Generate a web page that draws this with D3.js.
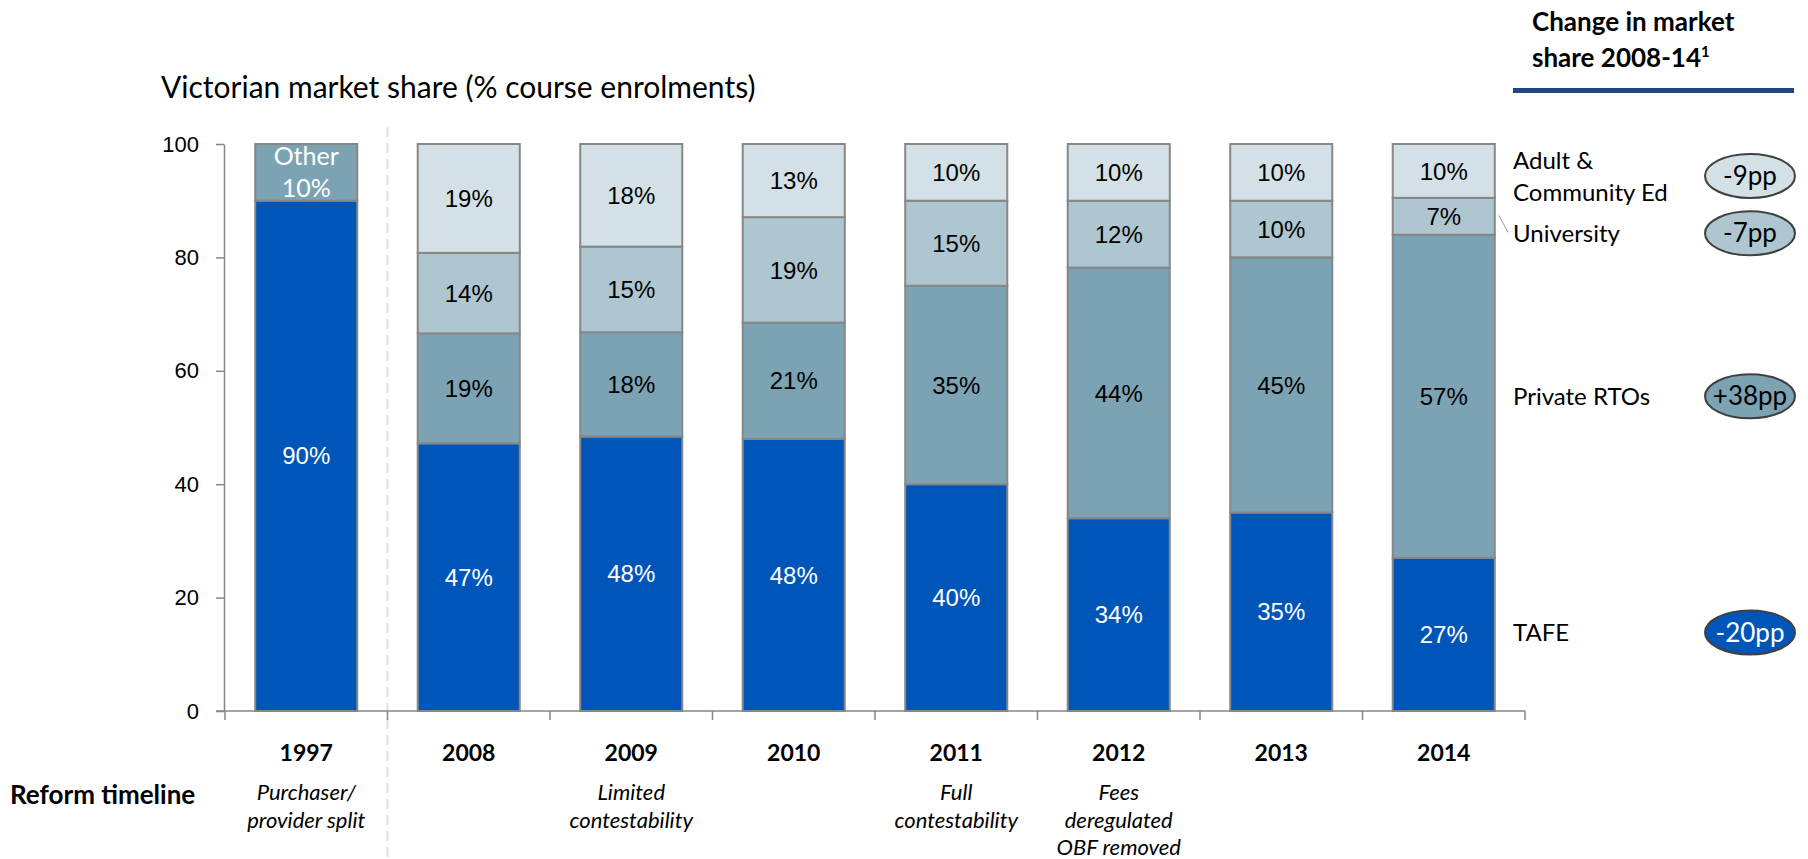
<html>
<head>
<style>
  body{margin:0;background:#fff}
  .lbl{font-family:"Liberation Sans",Arial,sans-serif;font-size:24px}
  .cal{font-family:Lato,"Open Sans",sans-serif}
</style>
</head>
<body>
<div id="vic-share"></div>
<script src="https://cdn.jsdelivr.net/npm/d3@7"></script>
<script>
(function () {

  // ---- data (% of course enrolments) ----
  var years      = ['1997', '2008', '2009', '2010', '2011', '2012', '2013', '2014'];
  var tafe       = [90, 47.2, 48.4, 48.0, 40, 34, 35, 27];
  var other      = [10, 0, 0, 0, 0, 0, 0, 0];
  var privateRto = [0, 19.4, 18.4, 20.5, 35, 44.2, 45, 57];
  var university = [0, 14.2, 15.1, 18.6, 15, 11.8, 10, 6.5];
  var ace        = [0, 19.2, 18.1, 12.9, 10, 10, 10, 9.5];
  var yTicks     = [0, 20, 40, 60, 80, 100];
  var reforms    = [['Purchaser/', 'provider split'], [], ['Limited', 'contestability'], [],
                    ['Full', 'contestability'], ['Fees', 'deregulated', 'OBF removed'], [], []];

  var series = [
    {key: 'tafe',  name: ['TAFE'],                      vals: tafe,       fill: '#0056B8', text: '#fff'},
    {key: 'other', name: null,                          vals: other,      fill: '#7BA3B4', text: '#fff'},
    {key: 'priv',  name: ['Private RTOs'],              vals: privateRto, fill: '#7BA3B4', text: '#000'},
    {key: 'uni',   name: ['University'],                vals: university, fill: '#ADC6D0', text: '#000'},
    {key: 'ace',   name: ['Adult &', 'Community Ed'],   vals: ace,        fill: '#D3E0E6', text: '#000'}
  ];

  var width = 1808, height = 859;

  var svg = d3.select('#vic-share').append('svg')
    .attr('width', width)
    .attr('height', height);

  var x = d3.scaleBand()
    .domain(years)
    .range([225, 1525])
    .paddingInner(0.372)
    .paddingOuter(0.186);

  var y = d3.scaleLinear()
    .domain([0, 100])
    .range([711, 144]);

  // stack
  var rows = years.map(function (yr, i) {
    var r = {year: yr, idx: i};
    series.forEach(function (s) { r[s.key] = s.vals[i]; });
    return r;
  });
  var stack = d3.stack().keys(series.map(function (s) { return s.key; }))(rows);

  // title
  svg.append('text')
    .attr('class', 'cal')
    .attr('x', 161).attr('y', 98)
    .style('font-size', '30px')
    .text('Victorian market share (% course enrolments)');

  // dashed divider after 1997
  var step = x.step(), gap = step - x.bandwidth();
  var divX = x('1997') + x.bandwidth() + gap / 2;
  svg.append('line')
    .attr('x1', divX).attr('x2', divX)
    .attr('y1', 127).attr('y2', height)
    .style('stroke', '#E4E0D4')
    .style('stroke-width', 2)
    .style('stroke-dasharray', '10,6');

  // y axis
  var yAxis = svg.append('g')
    .attr('transform', 'translate(224,0)')
    .call(d3.axisLeft(y).tickValues(yTicks).tickSize(8).tickSizeOuter(0).tickPadding(17));
  yAxis.select('.domain').style('stroke', '#868686').style('stroke-width', 1.5);
  yAxis.selectAll('.tick line').style('stroke', '#868686').style('stroke-width', 1.5);
  yAxis.selectAll('.tick text')
    .style('font-family', '"Liberation Sans",Arial,sans-serif')
    .style('font-size', '22px')
    .style('fill', '#000');

  // x baseline + boundary ticks
  svg.append('line')
    .attr('x1', 216).attr('x2', x.range()[1])
    .attr('y1', y(0)).attr('y2', y(0))
    .style('stroke', '#868686').style('stroke-width', 1.5);
  var bounds = years.map(function (d) { return x(d) - gap / 2; });
  bounds.push(x.range()[1]);
  svg.selectAll('.xtick').data(bounds).enter().append('line')
    .attr('class', 'xtick')
    .attr('x1', function (d) { return d; }).attr('x2', function (d) { return d; })
    .attr('y1', y(0)).attr('y2', y(0) + 9)
    .style('stroke', '#868686').style('stroke-width', 1.5);

  // bars
  var layers = svg.selectAll('.layer').data(stack).enter().append('g')
    .attr('class', 'layer');

  layers.selectAll('rect')
    .data(function (d) { return d.filter(function (p) { return p[1] - p[0] > 0; }); })
    .enter().append('rect')
    .attr('x', function (d) { return x(d.data.year); })
    .attr('y', function (d) { return y(d[1]); })
    .attr('width', x.bandwidth())
    .attr('height', function (d) { return y(d[0]) - y(d[1]); })
    .style('fill', function () { return series[d3.select(this.parentNode).datum().index].fill; })
    .style('stroke', '#878787')
    .style('stroke-width', 2);

  // segment labels
  stack.forEach(function (layer, li) {
    var s = series[li];
    layer.forEach(function (p) {
      var v = p[1] - p[0];
      if (v <= 0) return;
      var cx = x(p.data.year) + x.bandwidth() / 2;
      var cy = (y(p[0]) + y(p[1])) / 2;
      if (s.key === 'other') {
        svg.append('text').attr('class', 'cal')
          .attr('x', cx).attr('y', cy - 7)
          .attr('text-anchor', 'middle')
          .style('font-size', '25px').style('fill', s.text)
          .text('Other');
        svg.append('text').attr('class', 'cal')
          .attr('x', cx).attr('y', cy + 25)
          .attr('text-anchor', 'middle')
          .style('font-size', '25px').style('fill', s.text)
          .text(Math.round(v) + '%');
        return;
      }
      svg.append('text').attr('class', 'lbl')
        .attr('x', cx).attr('y', cy)
        .attr('dy', '0.36em')
        .attr('text-anchor', 'middle')
        .style('fill', s.text)
        .text(Math.round(v) + '%');
    });
  });

  // year labels + reform notes
  years.forEach(function (yr, i) {
    var cx = x(yr) + x.bandwidth() / 2;
    svg.append('text').attr('class', 'cal')
      .attr('x', cx).attr('y', 761)
      .attr('text-anchor', 'middle')
      .style('font-size', '23px').style('font-weight', 'bold')
      .text(yr);
    reforms[i].forEach(function (line, j) {
      svg.append('text').attr('class', 'cal')
        .attr('x', cx).attr('y', 800 + j * 27.5)
        .attr('text-anchor', 'middle')
        .style('font-size', '22px').style('font-style', 'italic')
        .text(line);
    });
  });

  svg.append('text').attr('class', 'cal')
    .attr('x', 10).attr('y', 804)
    .style('font-size', '26px').style('font-weight', 'bold')
    .text('Reform timeline');

  // right-hand legend with change 2008-14
  var last = years.length - 1, first = 1;
  var nudge = {tafe: -2, priv: 0, uni: 17, ace: 6};
  var legX = 1513, ellX = 1750;
  stack.forEach(function (layer, li) {
    var s = series[li];
    if (!s.name) return;
    var p = layer[last];
    var cy = (y(p[0]) + y(p[1])) / 2 + nudge[s.key];
    var n = s.name.length;
    s.name.forEach(function (t, j) {
      svg.append('text').attr('class', 'cal')
        .attr('x', legX).attr('y', cy + (j - (n - 1) / 2) * 32)
        .attr('dy', '0.35em')
        .style('font-size', '24px')
        .text(t);
    });
    var change = Math.round(s.vals[last]) - Math.round(s.vals[first]);
    var ey = s.key === 'ace' ? cy - 1 : cy;
    svg.append('ellipse')
      .attr('cx', ellX).attr('cy', ey)
      .attr('rx', 45).attr('ry', 22)
      .style('fill', s.fill)
      .style('stroke', '#404040')
      .style('stroke-width', 2);
    svg.append('text').attr('class', 'cal')
      .attr('x', ellX).attr('y', ey)
      .attr('dy', '0.35em')
      .attr('text-anchor', 'middle')
      .style('font-size', '26px')
      .style('fill', s.text)
      .text((change > 0 ? '+' : '') + change + 'pp');
  });

  // leader line for University
  var uni = stack[3][last];
  svg.append('line')
    .attr('x1', x(years[last]) + x.bandwidth() + 4).attr('y1', (y(uni[0]) + y(uni[1])) / 2 - 1)
    .attr('x2', legX - 5).attr('y2', (y(uni[0]) + y(uni[1])) / 2 + 16)
    .style('stroke', '#9a9a9a').style('stroke-width', 1);

  // header
  var hdr = svg.append('text').attr('class', 'cal')
    .style('font-size', '26px').style('font-weight', 'bold');
  hdr.append('tspan').attr('x', 1532).attr('y', 31).text('Change in market');
  hdr.append('tspan').attr('x', 1532).attr('y', 67).text('share 2008-14');
  hdr.append('tspan').attr('dy', -10).style('font-size', '15px').text('1');

  svg.append('line')
    .attr('x1', 1513).attr('x2', 1794)
    .attr('y1', 90.5).attr('y2', 90.5)
    .style('stroke', '#1F497D')
    .style('stroke-width', 5);

})();
</script>
</body>
</html>
